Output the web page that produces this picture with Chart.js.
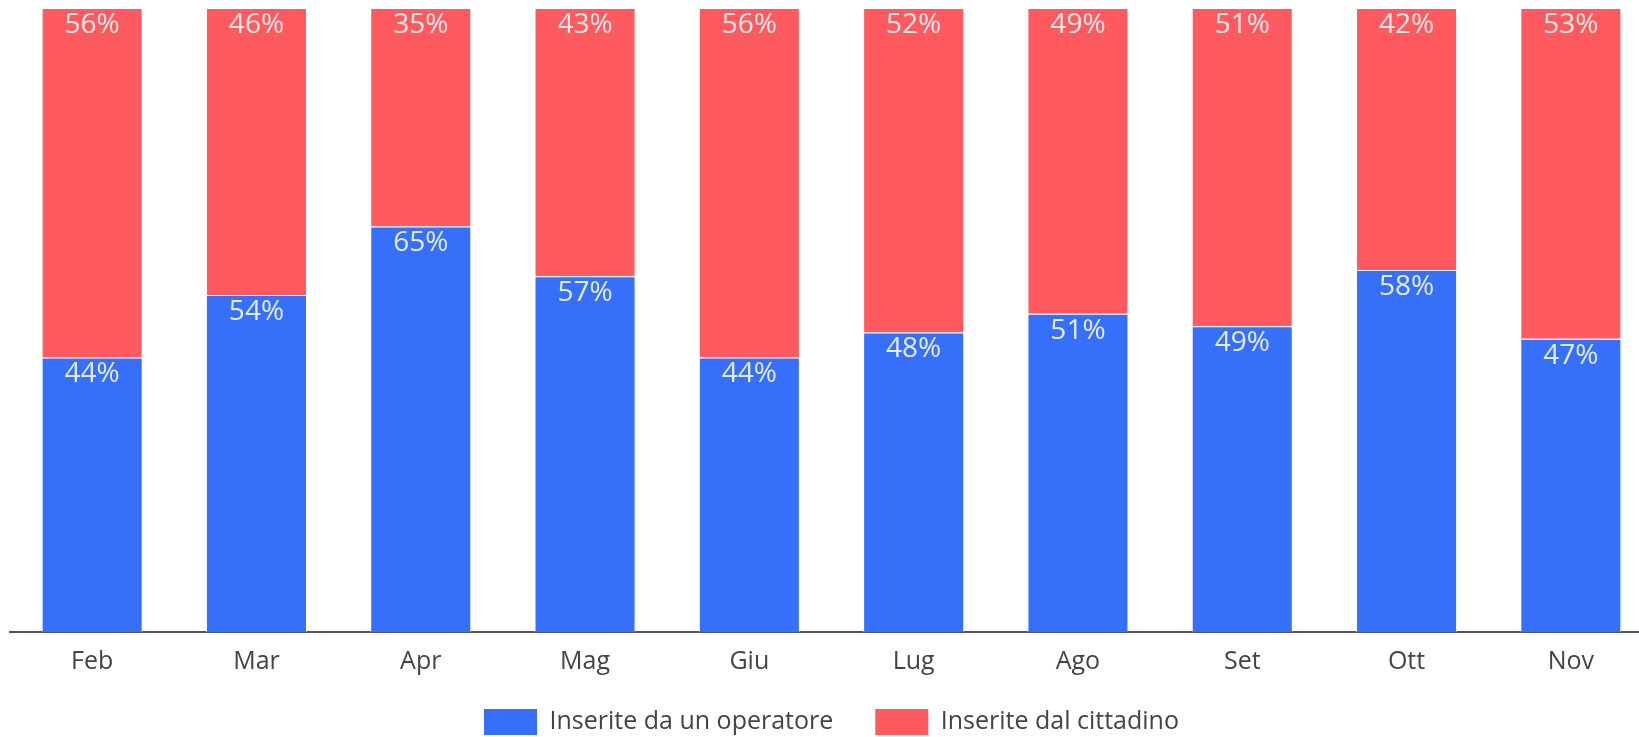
<!DOCTYPE html>
<html>
<head>
<meta charset="utf-8">
<script src="https://cdn.jsdelivr.net/npm/chart.js@4.4.0/dist/chart.umd.min.js"></script>
<style>
  html, body { margin: 0; padding: 0; background: #fff; overflow: hidden; }
  #wrap { position: absolute; left: 0; top: 0; width: 1663px; height: 737px; }
</style>
</head>
<body>
<div id="wrap"><canvas id="chart"></canvas></div>
<script>
const months = ['Feb', 'Mar', 'Apr', 'Mag', 'Giu', 'Lug', 'Ago', 'Set', 'Ott', 'Nov'];
const operatore = [44, 54, 65, 57, 44, 48, 51, 49, 58, 47];
const cittadino = [56, 46, 35, 43, 56, 52, 49, 51, 42, 53];
const seriesNames = ['Inserite da un operatore', 'Inserite dal cittadino'];

const FONT = '"Open Sans", Lato, sans-serif';

// draws the % value at the top of every stacked segment
const segmentLabels = {
  id: 'segmentLabels',
  afterDatasetsDraw(chart) {
    const ctx = chart.ctx;
    ctx.save();
    ctx.font = '28px ' + FONT;
    ctx.fillStyle = 'rgba(255,255,255,0.88)';
    ctx.textAlign = 'center';
    ctx.textBaseline = 'top';
    chart.data.datasets.forEach((ds, i) => {
      const meta = chart.getDatasetMeta(i);
      meta.data.forEach((bar, j) => {
        const top = Math.min(bar.y, bar.base);
        ctx.fillText(ds.data[j] + '%', bar.x, top + 3);
      });
    });
    ctx.restore();
  }
};

new Chart(document.getElementById('chart'), {
  type: 'bar',
  data: {
    labels: months,
    datasets: [
      {
        label: seriesNames[0],
        data: operatore,
        backgroundColor: '#366FF9',
        borderColor: 'rgba(255,255,255,0.55)',
        borderWidth: 1,
        categoryPercentage: 1,
        barPercentage: 0.615
      },
      {
        label: seriesNames[1],
        data: cittadino,
        backgroundColor: '#FF5A5F',
        borderColor: 'rgba(255,255,255,0.55)',
        borderWidth: 1,
        categoryPercentage: 1,
        barPercentage: 0.615
      }
    ]
  },
  options: {
    responsive: true,
    maintainAspectRatio: false,
    animation: false,
    layout: { padding: { top: 8, left: 10, right: 10, bottom: -8 } },
    plugins: {
      tooltip: { enabled: false },
      legend: {
        position: 'bottom',
        labels: {
          boxWidth: 53,
          boxHeight: 26,
          padding: 17,
          color: '#444',
          font: { family: FONT, size: 25 },
          // wider gap after the first entry, like the original legend
          generateLabels(chart) {
            const items = Chart.defaults.plugins.legend.labels.generateLabels(chart);
            items.forEach((it, i) => {
              it.lineWidth = 0;
              if (i < items.length - 1) it.text = it.text + '\u2002\u2002';
            });
            return items;
          }
        }
      }
    },
    scales: {
      x: {
        stacked: true,
        grid: { display: false, drawTicks: false },
        border: { color: '#555', width: 2 },
        ticks: { color: '#444', padding: 15, font: { family: FONT, size: 25 } }
      },
      y: {
        stacked: true,
        display: false,
        min: 0,
        max: 100
      }
    }
  },
  plugins: [segmentLabels]
});
</script>
</body>
</html>
